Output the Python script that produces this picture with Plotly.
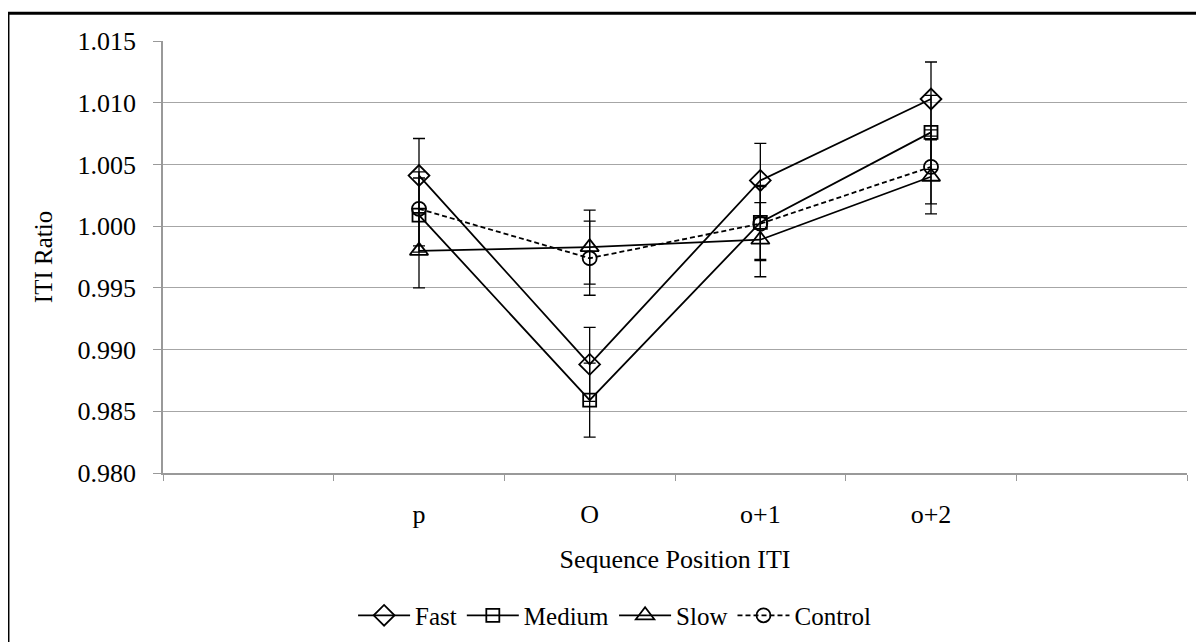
import plotly.graph_objects as go

# sequence positions (blank slots pad both ends, as in the original chart)
positions = ["p", "O", "o+1", "o+2"]
axis_slots = [" ", "p", "O", "o+1", "o+2", "  "]

fast = [1.0041, 0.9888, 1.0037, 1.0103]
medium = [1.0009, 0.9859, 1.0003, 1.0076]
slow = [0.9980, 0.9983, 0.9989, 1.0040]
control = [1.0014, 0.9974, 1.0002, 1.0048]
err = [0.003, 0.003, 0.003, 0.003]

y_ticks = [0.980, 0.985, 0.990, 0.995, 1.000, 1.005, 1.010, 1.015]

FONT = "Liberation Serif"

series = [
    ("Fast", fast, "diamond-open", 16, "solid"),
    ("Medium", medium, "square-open", 13, "solid"),
    ("Slow", slow, "triangle-up-open", 16, "solid"),
    ("Control", control, "circle-open", 14, "5px,3px"),
]

fig = go.Figure()
for name, vals, symbol, size, dash in series:
    fig.add_trace(
        go.Scatter(
            x=positions,
            y=vals,
            name=name,
            mode="lines+markers",
            line=dict(color="black", width=1.8, dash=dash),
            marker=dict(symbol=symbol, size=size, color="black",
                        line=dict(color="black", width=1.8)),
            error_y=dict(type="data", array=err, visible=True,
                         color="black", thickness=1.3, width=6),
        )
    )

# page body adds an 8px offset, margins below account for it
fig.update_layout(
    width=1204,
    height=642,
    paper_bgcolor="white",
    plot_bgcolor="white",
    font=dict(family=FONT, size=24, color="black"),
    margin=dict(l=155, r=25, t=33, b=175),
    showlegend=True,
    legend=dict(
        orientation="h",
        x=0.441,
        xanchor="center",
        y=-0.33,
        yanchor="middle",
        font=dict(family=FONT, size=25, color="black"),
        itemwidth=52,
    ),
)

fig.update_xaxes(
    type="category",
    categoryorder="array",
    categoryarray=axis_slots,
    range=[-0.5, 5.5],
    tickson="boundaries",
    ticks="outside",
    ticklen=6,
    tickcolor="#999999",
    showline=True,
    linecolor="#999999",
    linewidth=1.5,
    showgrid=False,
    tickfont=dict(family=FONT, size=26, color="black"),
    ticklabelstandoff=17,
    title=dict(text="Sequence Position ITI",
               font=dict(family=FONT, size=26, color="black"), standoff=22),
)

fig.update_yaxes(
    range=[0.980, 1.015],
    tickvals=y_ticks,
    tickformat=".3f",
    ticks="outside",
    ticklen=8,
    tickcolor="#999999",
    showline=True,
    linecolor="#999999",
    linewidth=1.5,
    showgrid=True,
    gridcolor="#a6a6a6",
    gridwidth=1.2,
    zeroline=False,
    tickfont=dict(family=FONT, size=26, color="black"),
    ticklabelstandoff=12,
    title=dict(text="ITI Ratio",
               font=dict(family=FONT, size=25, color="black"), standoff=18),
)

# chart frame: only its top and left edges fall inside the picture
fig.add_shape(type="line", xref="paper", yref="paper",
              x0=-0.1514, x1=1.1, y0=1.0645, y1=1.0645,
              line=dict(color="black", width=3))
fig.add_shape(type="line", xref="paper", yref="paper",
              x0=-0.1514, x1=-0.1514, y0=1.0645, y1=-0.5,
              line=dict(color="black", width=3))

fig.write_html("out.html")
